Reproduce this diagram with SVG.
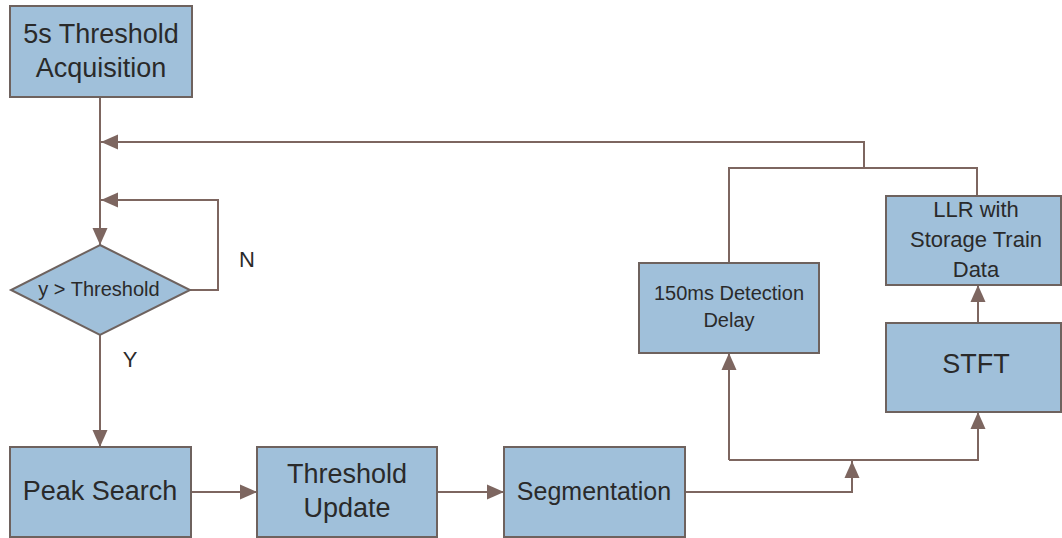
<svg xmlns="http://www.w3.org/2000/svg" width="1062" height="538" viewBox="0 0 1062 538">
<style>
.box{fill:#a0c0da;stroke:#6e625e;stroke-width:2}
.ln{fill:none;stroke:#7d6660;stroke-width:2}
.t{font-family:"Liberation Sans",Arial,sans-serif;fill:#2a2a2a;text-anchor:middle}
</style>
<defs>
<marker id="ah" markerUnits="userSpaceOnUse" markerWidth="18" markerHeight="18" viewBox="0 0 18 18" refX="17" refY="9" orient="auto">
<path d="M0,1.5 L17,9 L0,16.5 Z" fill="#7d6660"/>
</marker>
</defs>
<rect width="1062" height="538" fill="#ffffff"/>
<g id="connectors">
<path class="ln" d="M100,97 V245" marker-end="url(#ah)"/>
<path class="ln" d="M864,168 V142 H101" marker-end="url(#ah)"/>
<path class="ln" d="M190,290 H218 V200 H101" marker-end="url(#ah)"/>
<path class="ln" d="M100,335 V447" marker-end="url(#ah)"/>
<path class="ln" d="M191,492 H257" marker-end="url(#ah)"/>
<path class="ln" d="M437,492 H504" marker-end="url(#ah)"/>
<path class="ln" d="M685,492 H852 V461" marker-end="url(#ah)"/>
<path class="ln" d="M729,263 V168 H977 V196"/>
<path class="ln" d="M729,460 H978 V412" marker-end="url(#ah)"/>
<path class="ln" d="M729,460 V353" marker-end="url(#ah)"/>
<path class="ln" d="M978,323 V285" marker-end="url(#ah)"/>
<text class="t" x="247" y="267" font-size="22">N</text>
<text class="t" x="130" y="367" font-size="22">Y</text>
</g>
<g id="acq">
<rect class="box" x="10" y="6" width="182" height="91"/>
<text class="t" x="101" y="43" font-size="27">5s Threshold</text>
<text class="t" x="101" y="77" font-size="27">Acquisition</text>
</g>
<g id="decision">
<polygon class="box" points="100,245 190,290 100,335 11,290"/>
<text class="t" x="99" y="296" font-size="20">y &gt; Threshold</text>
</g>
<g id="peak">
<rect class="box" x="10" y="447" width="181" height="90"/>
<text class="t" x="100" y="500" font-size="27">Peak Search</text>
</g>
<g id="update">
<rect class="box" x="257" y="447" width="180" height="90"/>
<text class="t" x="347" y="483" font-size="27">Threshold</text>
<text class="t" x="347" y="517" font-size="27">Update</text>
</g>
<g id="seg">
<rect class="box" x="504" y="447" width="181" height="90"/>
<text class="t" x="594" y="500" font-size="25">Segmentation</text>
</g>
<g id="delay">
<rect class="box" x="639" y="263" width="180" height="90"/>
<text class="t" x="729" y="300" font-size="20">150ms Detection</text>
<text class="t" x="729" y="327" font-size="20">Delay</text>
</g>
<g id="llr">
<rect class="box" x="886" y="196" width="175" height="89"/>
<text class="t" x="976" y="217" font-size="22">LLR with</text>
<text class="t" x="976" y="247" font-size="22">Storage Train</text>
<text class="t" x="976" y="277" font-size="22">Data</text>
</g>
<g id="stft">
<rect class="box" x="886" y="323" width="175" height="89"/>
<text class="t" x="976" y="373" font-size="27">STFT</text>
</g>
</svg>
